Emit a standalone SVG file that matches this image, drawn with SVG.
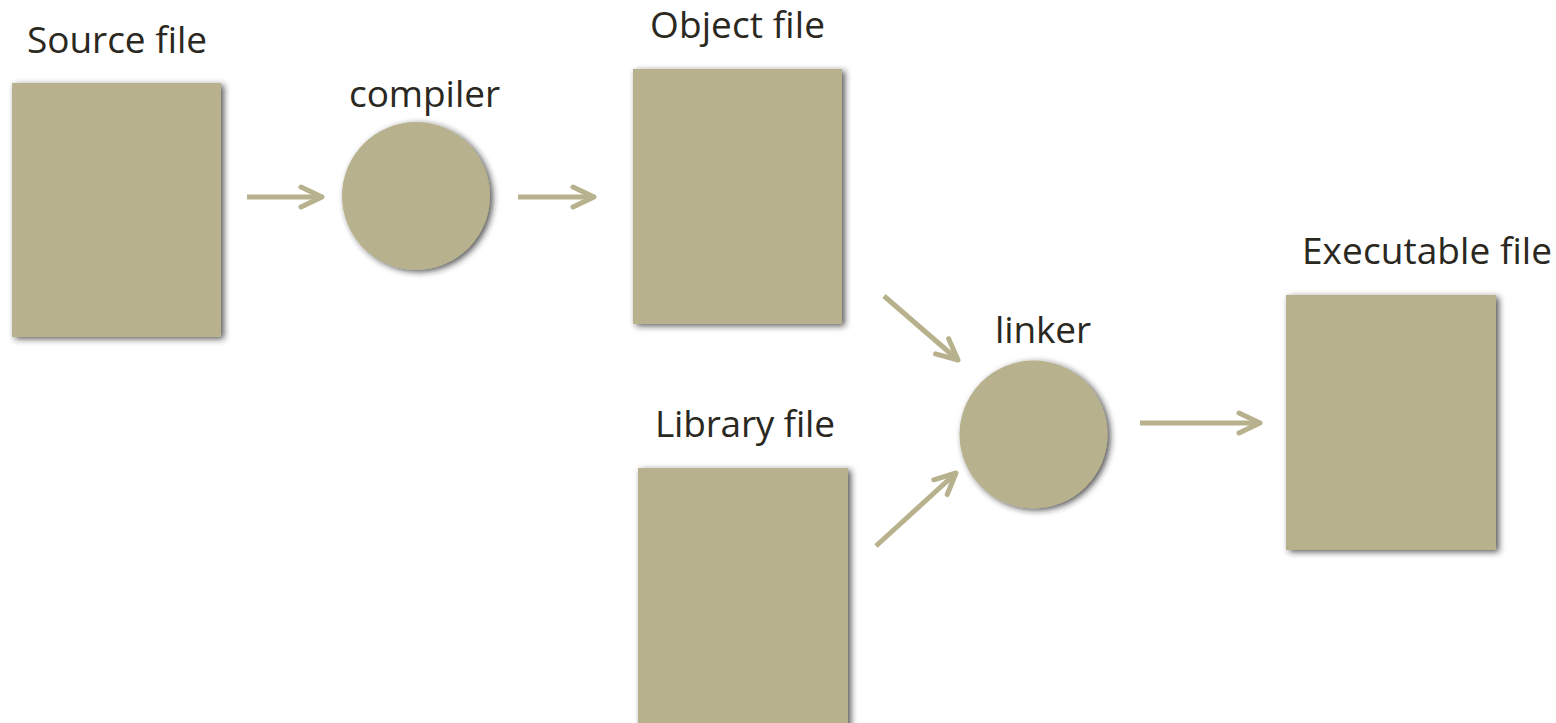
<svg xmlns="http://www.w3.org/2000/svg" width="1556" height="723" viewBox="0 0 1556 723">
<defs>
<filter id="sh" x="-20%" y="-20%" width="140%" height="140%">
<feDropShadow dx="3" dy="2" stdDeviation="3" flood-color="#222" flood-opacity="0.75"/>
</filter>
<marker id="ah" markerUnits="userSpaceOnUse" viewBox="-26 -14 30 28" markerWidth="30" markerHeight="28" refX="0" refY="0" orient="auto">
<path d="M-21,-10 L0,0 L-21,10" fill="none" stroke="#b7b18d" stroke-width="5" stroke-linecap="round" stroke-linejoin="round"/>
</marker>
</defs>
<style>
.n{fill:#b7b18d;filter:url(#sh)}
.t{font-family:"Open Sans","Liberation Sans",sans-serif;font-size:37px;fill:#2a2820}
.c{fill:none;stroke:#b7b18d;stroke-width:5;marker-end:url(#ah)}
</style>
<rect width="1556" height="723" fill="#fff"/>
<g id="source"><rect class="n" x="12" y="83" width="209" height="254"/><text class="t" x="27" y="53" textLength="180">Source file</text></g>
<g id="compiler"><circle class="n" cx="416" cy="196" r="74"/><text class="t" x="349" y="107" textLength="151">compiler</text></g>
<g id="object"><rect class="n" x="633" y="69" width="209" height="255"/><text class="t" x="650" y="38" textLength="175">Object file</text></g>
<g id="library"><rect class="n" x="638" y="468" width="210" height="260"/><text class="t" x="655" y="437" textLength="180">Library file</text></g>
<g id="linker"><circle class="n" cx="1033.5" cy="434.5" r="74"/><text class="t" x="995" y="343" textLength="96">linker</text></g>
<g id="executable"><rect class="n" x="1286" y="295" width="210" height="255"/><text class="t" x="1302" y="264" textLength="250">Executable file</text></g>
<g id="connectors">
<line class="c" x1="247" y1="197" x2="322" y2="197"/>
<line class="c" x1="518" y1="197" x2="594" y2="197"/>
<line class="c" x1="884" y1="296" x2="958" y2="360"/>
<line class="c" x1="876" y1="546" x2="956" y2="473"/>
<line class="c" x1="1140" y1="423" x2="1260" y2="423"/>
</g>
</svg>
